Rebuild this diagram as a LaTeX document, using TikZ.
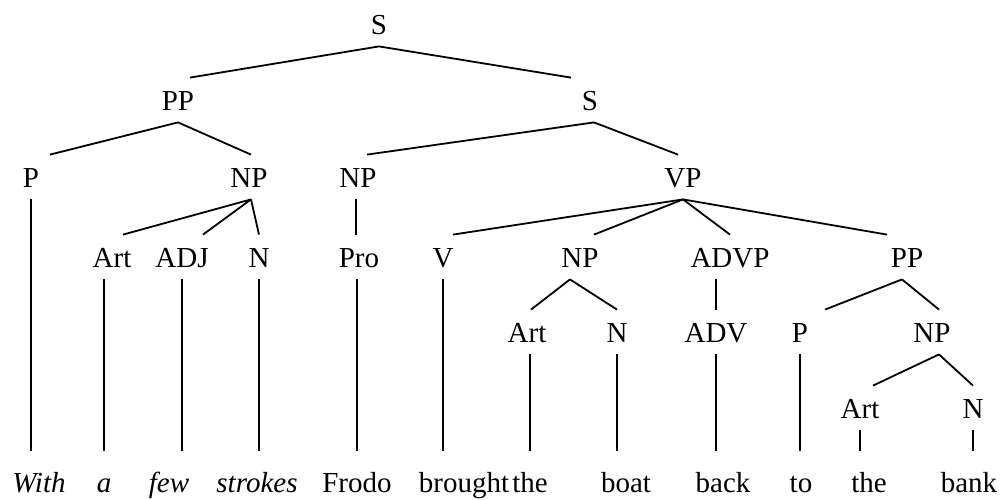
\documentclass[tikz,border=0pt]{standalone}
\usepackage{fontspec}
\setmainfont{Liberation Serif}
\usepackage{tikz}
\usetikzlibrary{positioning}

\begin{document}
\begin{tikzpicture}[x=1pt,y=-1pt,line width=1.8pt,
font=\fontsize{29}{35}\selectfont]

\tikzstyle{cat}=[inner xsep=0pt,inner ysep=11.5pt,text height=20pt,text depth=0pt]
\tikzstyle{word}=[cat,inner ysep=20pt]

\useasboundingbox (0,0) rectangle (1005,499);

\node[cat] (S)    at (379,24)  {S};
\node[cat] (PP)   at (178,100) {PP};
\node[cat] (S2)   at (590,100) {S};
\node[cat] (P)    at (31,177)  {P};
\node[cat] (NPa)  at (249,177) {NP};
\node[cat] (NPb)  at (358,177) {NP};
\node[cat] (VP)   at (683,177) {VP};
\node[cat] (Arta) at (112,257) {Art};
\node[cat] (ADJ)  at (182,257) {ADJ};
\node[cat] (Na)   at (259,257) {N};
\node[cat] (Pro)  at (359,257) {Pro};
\node[cat] (V)    at (443,257) {V};
\node[cat] (NPc)  at (580,257) {NP};
\node[cat] (ADVP) at (730,257) {ADVP};
\node[cat] (PPb)  at (907,257) {PP};
\node[cat] (Artb) at (527,332) {Art};
\node[cat] (Nb)   at (617,332) {N};
\node[cat] (ADV)  at (716,332) {ADV};
\node[cat] (Pb)   at (800,332) {P};
\node[cat] (NPd)  at (932,332) {NP};
\node[cat] (Artc) at (860,408) {Art};
\node[cat] (Nc)   at (973,408) {N};

\node[word] (with)    at (39,482)  {\itshape With};
\node[word] (a)       at (104,482) {\itshape a};
\node[word] (few)     at (169,482) {\itshape few};
\node[word] (strokes) at (257,482) {\itshape strokes};
\node[word] (frodo)   at (357,482) {Frodo};
\node[word] (brought) at (464,482) {brought};
\node[word] (thea)    at (530,482) {the};
\node[word] (boat)    at (626,482) {boat};
\node[word] (back)    at (723,482) {back};
\node[word] (to)      at (801,482) {to};
\node[word] (theb)    at (869,482) {the};
\node[word] (bank)    at (969,482) {bank};

\path (S.south) edge ([xshift=12pt]PP.north)
                edge ([xshift=-19pt]S2.north)
      (PP.south) edge ([xshift=19pt]P.north)
                 edge ([xshift=2pt]NPa.north)
      ([xshift=4pt]S2.south) edge ([xshift=9pt]NPb.north)
                             edge ([xshift=-5pt]VP.north)
      ([xshift=2pt]NPa.south) edge ([xshift=11pt]Arta.north)
                              edge ([xshift=21pt]ADJ.north)
                              edge (Na.north)
      ([xshift=-2pt]NPb.south) edge ([xshift=-3pt]Pro.north)
      (VP.south) edge ([xshift=10pt]V.north)
                 edge ([xshift=14pt]NPc.north)
                 edge (ADVP.north)
                 edge ([xshift=-20pt]PPb.north)
      ([xshift=-10pt]NPc.south) edge ([xshift=4pt]Artb.north)
                                edge (Nb.north)
      (ADV.north |- ADVP.south) edge (ADV.north)
      ([xshift=-5pt]PPb.south) edge ([xshift=25pt]Pb.north)
                               edge ([xshift=7pt]NPd.north)
      ([xshift=7pt]NPd.south) edge ([xshift=13pt]Artc.north)
                              edge (Nc.north);

\path (P.south) edge (P.south |- with.north)
      (a.north |- Arta.south) edge (a.north)
      (ADJ.south) edge (ADJ.south |- few.north)
      (Na.south) edge (Na.south |- strokes.north)
      (frodo.north |- Pro.south) edge (frodo.north)
      (V.south) edge (V.south |- brought.north)
      (thea.north |- Artb.south) edge (thea.north)
      (Nb.south) edge (Nb.south |- boat.north)
      (ADV.south) edge (ADV.south |- back.north)
      (Pb.south) edge (Pb.south |- to.north)
      (Artc.south) edge (Artc.south |- theb.north)
      (Nc.south) edge (Nc.south |- bank.north);
\end{tikzpicture}
\end{document}
